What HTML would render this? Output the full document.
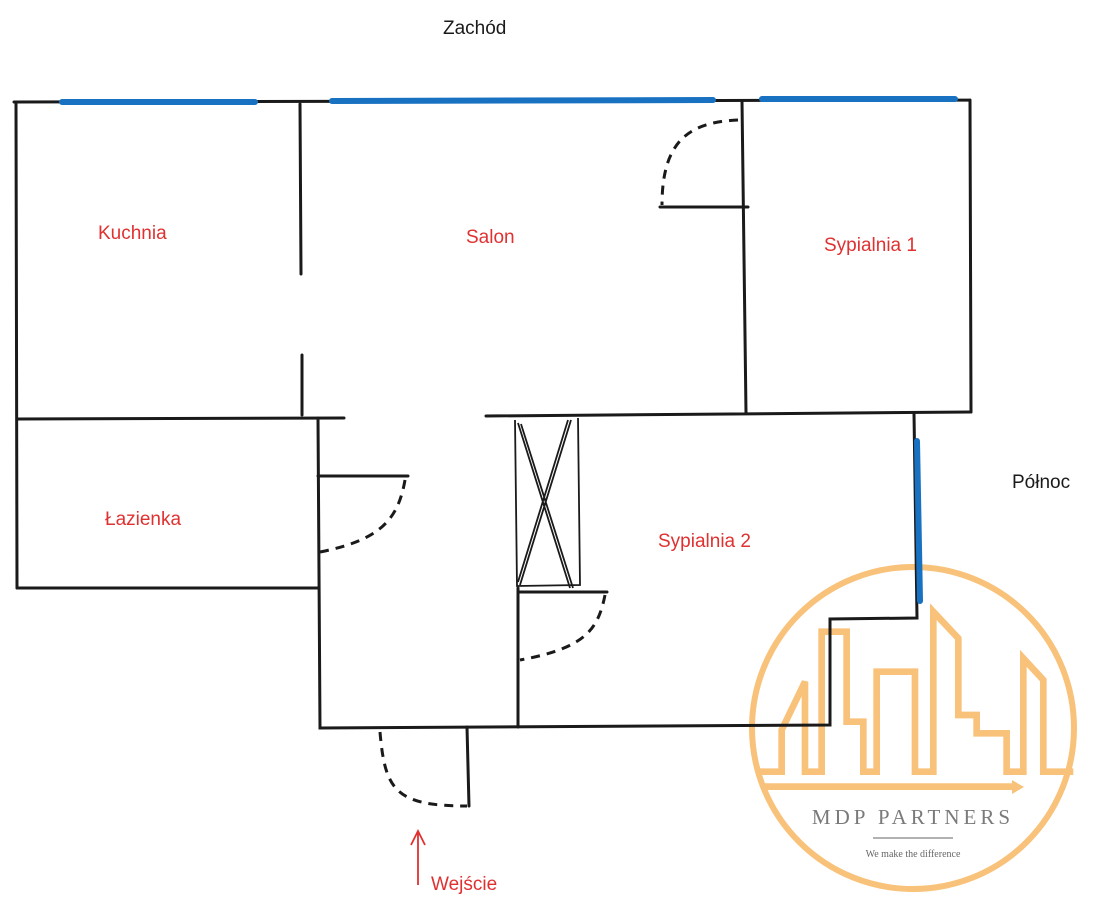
<!DOCTYPE html>
<html><head><meta charset="utf-8"><style>
html,body{margin:0;padding:0;background:#fff;width:1100px;height:910px;overflow:hidden}
svg{display:block}
.w{stroke:#1a1a1a;stroke-width:3;fill:none;stroke-linecap:round}
.d{stroke:#1a1a1a;stroke-width:3;fill:none;stroke-dasharray:9 7}
.b{stroke:#1971c2;stroke-width:6;fill:none;stroke-linecap:round}
.r{fill:#e03131;font-family:"Liberation Sans",sans-serif;font-size:19px}
.k{fill:#1a1a1a;font-family:"Liberation Sans",sans-serif;font-size:19px}
</style></head><body>
<svg width="1100" height="910" viewBox="0 0 1100 910" xmlns="http://www.w3.org/2000/svg">
<g opacity="0.85">
<circle cx="913" cy="728" r="161" fill="none" stroke="#f7b863" stroke-width="6"/>
<g transform="translate(740,560) scale(0.3333)" fill="none" stroke="#f7b863" stroke-width="20" stroke-linejoin="miter">
<path d="M50 635 L125 635 L125 510 L195 365 L195 635 L245 635 L245 215 L320 215 L320 485 L370 485 L370 635 L410 635 L410 335 L525 335 L525 635 L580 635 L580 155 L655 235 L655 465 L710 465 L710 520 L800 520 L800 635 L850 635 L850 295 L910 360 L910 635 L1000 635"/>
<path d="M65 680 L820 680"/>
</g>
<polygon points="1012,780 1024,787 1012,794" fill="#f7b863"/>
<line x1="873" y1="838" x2="953" y2="838" stroke="#888" stroke-width="1.5"/>
</g>
<text x="913" y="824" text-anchor="middle" font-family="Liberation Serif,serif" font-size="21" letter-spacing="4" fill="#7a7a7a">MDP PARTNERS</text>
<text x="913" y="857" text-anchor="middle" font-family="Liberation Serif,serif" font-size="10" fill="#666">We make the difference</text>

<path class="w" d="M14 102 L970 100 M16 104 L17 588 M970 100 L971 412"/>
<path class="w" d="M300 104 L301 274 M302 355 L302 415"/>
<path class="w" d="M17 419 L344 418 M17 588 L318 588 M318 418 L320 728 L830 725 L830 619 L917 618 L914 413"/>
<path class="w" d="M486 416 L971 412 M742 101 L746 413 M660 207 L748 207"/>
<path class="w" d="M518 588 L518 727 M518 592 L607 592 M318 476 L408 476 M467 727 L469 806"/>
<g stroke="#1a1a1a" stroke-width="1.8" fill="none">
<path d="M515 420 L517 586 L580 585 L578 418"/>
<path d="M518 423 L570 588 M521 424 L573 588 M568 420 L518 582 M571 420 L520 585"/>
</g>
<path class="d" d="M738 120 C690 122 662 140 662 205"/>
<path class="d" d="M405 480 C398 520 380 540 320 552"/>
<path class="d" d="M605 595 C598 630 585 648 520 660"/>
<path class="d" d="M380 732 C385 790 395 806 467 806"/>
<path class="b" d="M62 102 L255 102 M332 101 L713 100 M762 99 L955 99 M917 441 L920 601"/>
<path d="M418 885 L418 833 M411 845 L418 831 L425 845" stroke="#e03131" stroke-width="1.8" fill="none"/>
<text class="r" x="98" y="239">Kuchnia</text>
<text class="r" x="466" y="243">Salon</text>
<text class="r" x="824" y="251">Sypialnia 1</text>
<text class="r" x="105" y="525">Łazienka</text>
<text class="r" x="658" y="547">Sypialnia 2</text>
<text class="r" x="431" y="890">Wejście</text>
<text class="k" x="443" y="34">Zachód</text>
<text class="k" x="1012" y="488">Północ</text>
</svg>
</body></html>
